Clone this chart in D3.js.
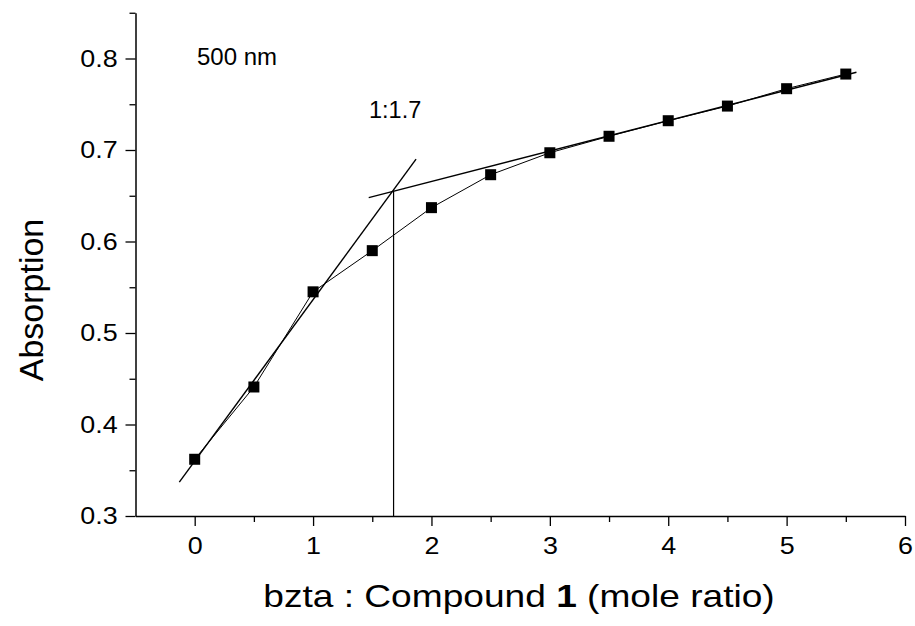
<!DOCTYPE html>
<meta charset="utf-8">
<style>
  body { margin: 0; background: #fff; }
  text { font-family: "Liberation Sans", Arial, sans-serif; fill: #000; }
</style>
<script src="https://d3js.org/d3.v7.min.js"></script>
<div id="chart"></div>
<script>

// measured points: mole ratio vs absorption at 500 nm
var ratio = [0, 0.5, 1, 1.5, 2, 2.5, 3, 3.5, 4, 4.5, 5, 5.5];
var absorption = [0.362, 0.441, 0.545, 0.590, 0.637, 0.673, 0.697, 0.715, 0.732, 0.748, 0.767, 0.783];

// the two hand-drawn tangent lines and the cross point
var steepLine = [[-0.13, 0.337], [1.87, 0.690]];
var flatLine = [[1.47, 0.648], [5.59, 0.785]];
var crossX = 1.68, crossY = 0.656;

var xTicks = [0, 1, 2, 3, 4, 5, 6];
var yTicks = [0.3, 0.4, 0.5, 0.6, 0.7, 0.8];

var width = 915, height = 626;

var svg = d3.select("#chart")
  .append("svg")
    .attr("width", width)
    .attr("height", height);

var x = d3.scaleLinear()
  .domain([-0.5, 6])
  .range([135.5, 905]);

var y = d3.scaleLinear()
  .domain([0.3, 0.85])
  .range([516, 12.75]);

// x axis: minor ticks at halves, then majors
svg.append("g")
  .attr("transform", "translate(0," + y(0.3) + ")")
  .call(d3.axisBottom(x).tickValues([0.5, 1.5, 2.5, 3.5, 4.5, 5.5])
    .tickSize(6).tickFormat(""))
  .call(function(g){ g.select(".domain").remove(); })
  .selectAll("line").attr("stroke-width", 1.3);

svg.append("g")
  .attr("transform", "translate(0," + y(0.3) + ")")
  .call(d3.axisBottom(x).tickValues(xTicks).tickSize(10).tickSizeOuter(0).tickPadding(11)
    .tickFormat(d3.format("d")))
  .call(function(g){
    g.select(".domain").attr("stroke-width", 1.5);
    g.selectAll("line").attr("stroke-width", 1.3);
    // lettering in the original is a little wider than Arial
    g.selectAll("text").style("font-size", "24px").attr("transform", "scale(1.12,1)");
  });

// y axis
svg.append("g")
  .attr("transform", "translate(" + x(-0.5) + ",0)")
  .call(d3.axisLeft(y).tickValues([0.35, 0.45, 0.55, 0.65, 0.75, 0.85]).tickSize(6).tickFormat(""))
  .call(function(g){ g.select(".domain").remove(); })
  .selectAll("line").attr("stroke-width", 1.3);

svg.append("g")
  .attr("transform", "translate(" + x(-0.5) + ",0)")
  .call(d3.axisLeft(y).tickValues(yTicks).tickSize(10).tickSizeOuter(0).tickPadding(6)
    .tickFormat(d3.format(".1f")))
  .call(function(g){
    g.select(".domain").attr("stroke-width", 1.5);
    g.selectAll("line").attr("stroke-width", 1.3);
    g.selectAll("text").style("font-size", "24px").attr("transform", "scale(1.12,1)");
  });

// axis titles
svg.append("text")
  .attr("transform", "translate(519,607) scale(1.16,1)")
  .attr("text-anchor", "middle")
  .style("font-size", "32px")
  .html('bzta : Compound <tspan font-weight="bold">1</tspan> (mole ratio)');

svg.append("text")
  .attr("transform", "translate(43,300) rotate(-90)")
  .attr("text-anchor", "middle")
  .style("font-size", "34px")
  .text("Absorption");

// tangent lines
var line = d3.line()
  .x(function(d){ return x(d[0]); })
  .y(function(d){ return y(d[1]); });

[steepLine, flatLine].forEach(function(seg){
  svg.append("path")
    .datum(seg)
    .attr("d", line)
    .attr("fill", "none")
    .attr("stroke", "#000")
    .attr("stroke-width", 1.4);
});

svg.append("line")
  .attr("x1", x(crossX)).attr("x2", x(crossX))
  .attr("y1", y(crossY)).attr("y2", y(0.3))
  .attr("stroke", "#000")
  .attr("stroke-width", 1.2);

// data line + square markers
var pts = ratio.map(function(r, i){ return [r, absorption[i]]; });

svg.append("path")
  .datum(pts)
  .attr("d", line)
  .attr("fill", "none")
  .attr("stroke", "#000")
  .attr("stroke-width", 1);

var s = 11;
svg.selectAll(".pt")
  .data(pts)
  .enter()
  .append("rect")
    .attr("x", function(d){ return x(d[0]) - s / 2; })
    .attr("y", function(d){ return y(d[1]) - s / 2; })
    .attr("width", s)
    .attr("height", s)
    .attr("fill", "#000");

// annotations
svg.append("text").attr("x", 197).attr("y", 65).style("font-size", "24px").text("500 nm");
svg.append("text").attr("x", 369).attr("y", 118).style("font-size", "23.5px").text("1:1.7");

</script>
